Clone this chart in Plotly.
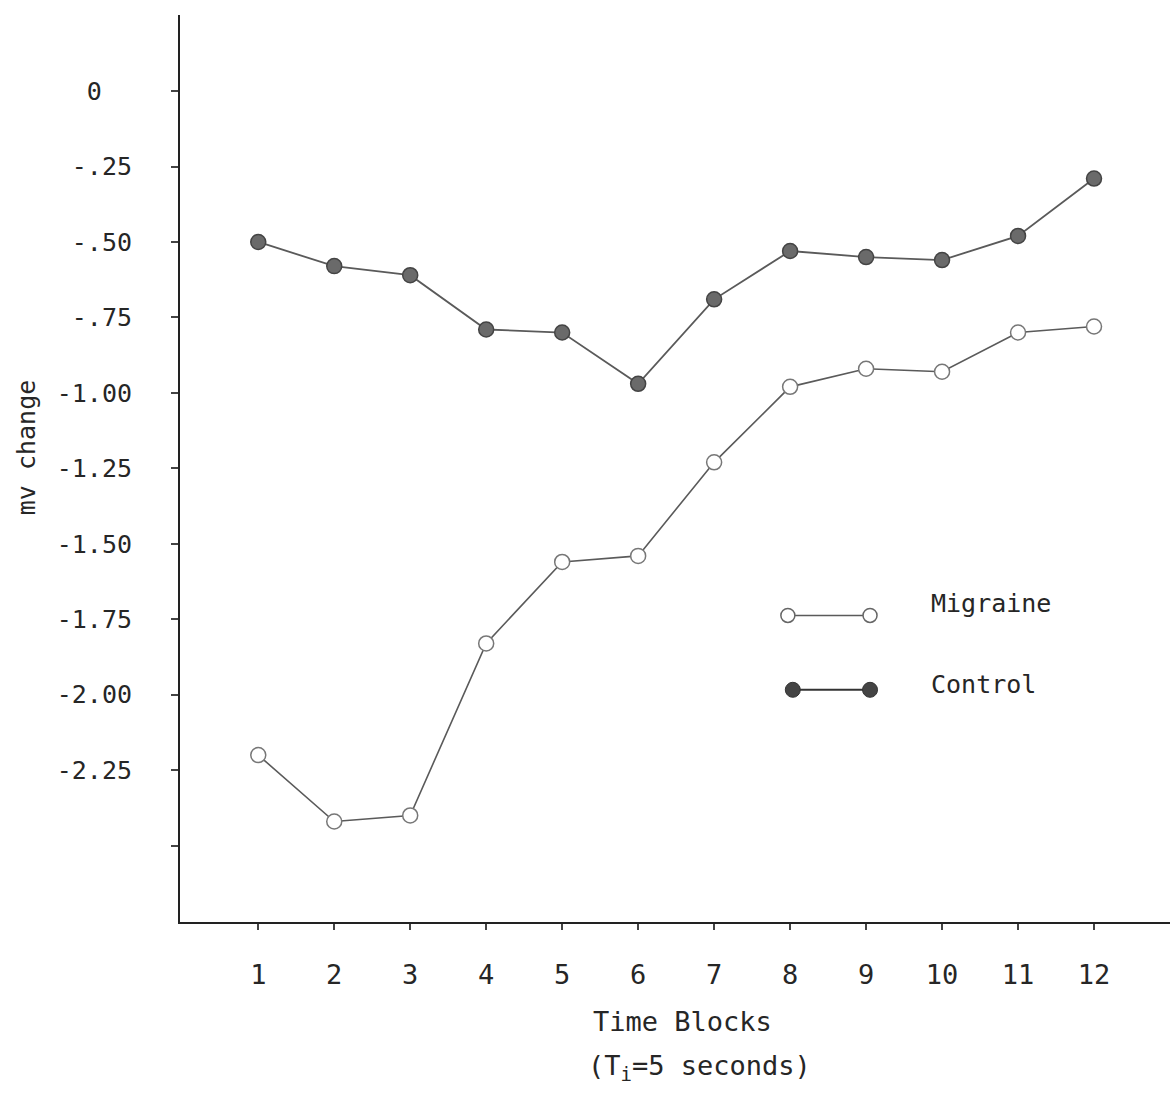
import plotly.graph_objects as go

# ---- data ----
time_blocks = [1, 2, 3, 4, 5, 6, 7, 8, 9, 10, 11, 12]
control = [-0.50, -0.58, -0.61, -0.79, -0.80, -0.97, -0.69, -0.53, -0.55, -0.56, -0.48, -0.29]
migraine = [-2.20, -2.42, -2.40, -1.83, -1.56, -1.54, -1.23, -0.98, -0.92, -0.93, -0.80, -0.78]

y_tick_vals = [0, -0.25, -0.50, -0.75, -1.00, -1.25, -1.50, -1.75, -2.00, -2.25]
y_tick_text = ["0\u00a0\u00a0", "-.25", "-.50", "-.75", "-1.00", "-1.25", "-1.50", "-1.75", "-2.00", "-2.25"]
y_unlabeled_ticks = [-2.50]
x_tick_text = [str(v) for v in time_blocks]

series_names = ["Migraine", "Control"]

MONO = "DejaVu Sans Mono"
LINE_COL = "#5a5a5a"
TEXT_COL = "#262626"

fig = go.Figure()

fig.add_trace(go.Scatter(
    x=time_blocks, y=control, mode="lines+markers", name=series_names[1],
    line=dict(color=LINE_COL, width=1.8),
    marker=dict(size=15, color="#6a6a6a", line=dict(color="#444444", width=1.5)),
    showlegend=False,
))
fig.add_trace(go.Scatter(
    x=time_blocks, y=migraine, mode="lines+markers", name=series_names[0],
    line=dict(color=LINE_COL, width=1.6),
    marker=dict(size=15, color="white", line=dict(color="#777777", width=1.5)),
    showlegend=False,
))

# hand-drawn style legend on an overlay axis in paper-like units
fig.add_trace(go.Scatter(
    x=[0.614, 0.697], y=[0.338, 0.338], xaxis="x2", yaxis="y2",
    mode="lines+markers", line=dict(color=LINE_COL, width=1.6),
    marker=dict(size=14, color="white", line=dict(color="#666666", width=1.5)),
    showlegend=False, hoverinfo="skip",
))
fig.add_trace(go.Scatter(
    x=[0.619, 0.697], y=[0.256, 0.256], xaxis="x2", yaxis="y2",
    mode="lines+markers", line=dict(color="#333333", width=2),
    marker=dict(size=15, color="#444444", line=dict(color="#333333", width=1)),
    showlegend=False, hoverinfo="skip",
))

annotations = [
    dict(text=series_names[0], x=0.757, y=0.351, xref="paper", yref="paper",
         xanchor="left", yanchor="middle", showarrow=False,
         font=dict(family=MONO, size=25, color=TEXT_COL)),
    dict(text=series_names[1], x=0.757, y=0.262, xref="paper", yref="paper",
         xanchor="left", yanchor="middle", showarrow=False,
         font=dict(family=MONO, size=25, color=TEXT_COL)),
    dict(text="Time Blocks", x=0.508, y=-0.110, xref="paper", yref="paper",
         xanchor="center", yanchor="middle", showarrow=False,
         font=dict(family=MONO, size=27, color=TEXT_COL)),
    dict(text="(T<sub>i</sub>=5 seconds)", x=0.525, y=-0.160, xref="paper", yref="paper",
         xanchor="center", yanchor="middle", showarrow=False,
         font=dict(family=MONO, size=27, color=TEXT_COL)),
    dict(text="mv change", x=-0.155, y=0.523, xref="paper", yref="paper",
         xanchor="center", yanchor="middle", showarrow=False, textangle=-90,
         font=dict(family=MONO, size=25, color=TEXT_COL)),
]

fig.update_layout(
    width=1170, height=1100,
    margin=dict(l=180, r=0, t=15, b=178),
    paper_bgcolor="white", plot_bgcolor="white",
    showlegend=False,
    annotations=annotations,
    xaxis=dict(
        range=[-0.03, 13.0], tickvals=time_blocks, ticktext=x_tick_text,
        showgrid=False, zeroline=False, showline=True, linecolor="#222222", linewidth=2,
        ticks="outside", ticklen=6, tickcolor="#444444", tickwidth=1.5,
        ticklabelstandoff=22,
        tickfont=dict(family=MONO, size=27, color=TEXT_COL),
    ),
    yaxis=dict(
        range=[-2.753, 0.252], tickvals=y_tick_vals, ticktext=y_tick_text,
        showgrid=False, zeroline=False, showline=True, linecolor="#222222", linewidth=2,
        ticks="outside", ticklen=7, tickcolor="#444444", tickwidth=1.5,
        ticklabelstandoff=34,
        tickfont=dict(family=MONO, size=25, color=TEXT_COL),
        minor=dict(tickvals=y_unlabeled_ticks, ticks="outside", ticklen=7,
                   tickcolor="#444444", tickwidth=1.5, showgrid=False),
    ),
    xaxis2=dict(range=[0, 1], overlaying="x", visible=False, fixedrange=True),
    yaxis2=dict(range=[0, 1], overlaying="y", visible=False, fixedrange=True),
)

fig.write_html("out.html")
